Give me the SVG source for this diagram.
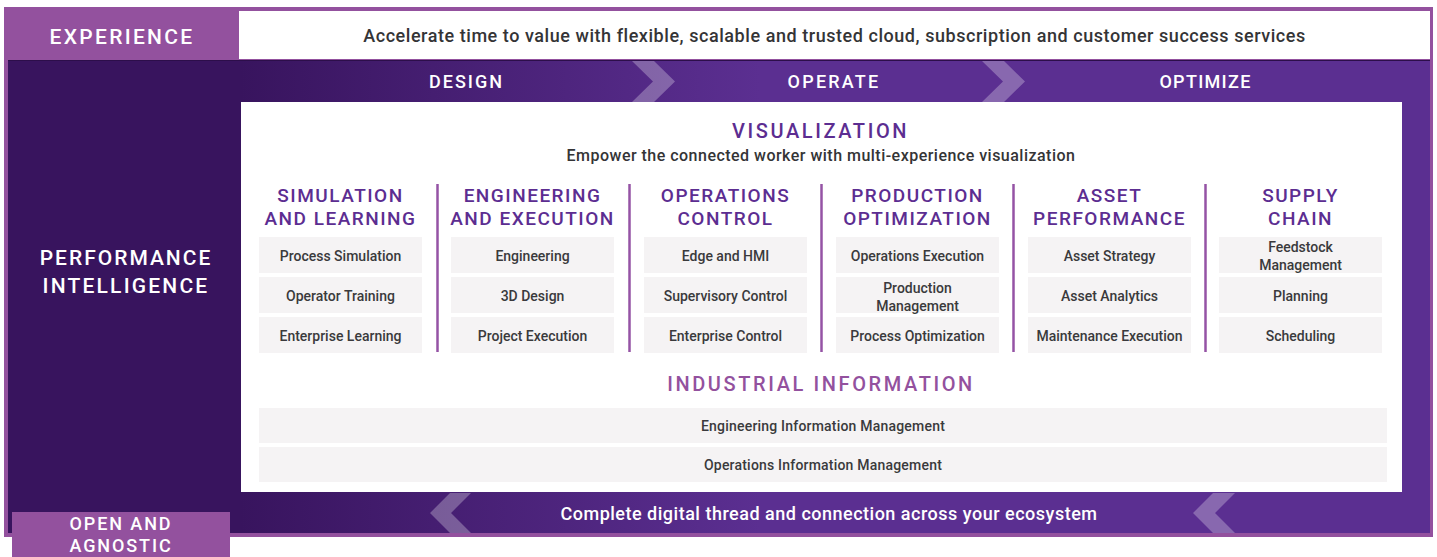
<svg xmlns="http://www.w3.org/2000/svg" width="1437" height="557" viewBox="0 0 1437 557">
<defs>
<linearGradient id="bandGrad" gradientUnits="userSpaceOnUse" x1="240" y1="0" x2="760" y2="0">
<stop offset="0" stop-color="#38145E"/>
<stop offset="1" stop-color="#5B2F91"/>
</linearGradient>
<style>
.t{font-family:Roboto,"Liberation Sans",sans-serif;font-weight:500;text-anchor:middle}
.wcap{fill:#FFFFFF}
.hdr{fill:#5C2D91;font-size:19px;letter-spacing:1.5px}
.item{fill:#3A3A3C;font-size:14px}
.bar{letter-spacing:0.2px}
.box{fill:#F5F3F4}
.sep{stroke:#9553A5;stroke-width:2.5}
.chev{fill:#FFFFFF;fill-opacity:0.28}
</style>
</defs>

<g id="frame">
<rect x="4" y="7" width="1429" height="530" fill="#93519E"/>
<rect x="8" y="60" width="1422" height="473" fill="url(#bandGrad)"/>
<rect x="8" y="60" width="232" height="473" fill="#38145E"/>
<line x1="8" y1="60.5" x2="1430" y2="60.5" stroke="#2C0E4A" stroke-width="1"/>
<rect x="241" y="102" width="1161" height="390" fill="#FFFFFF"/>
</g>

<g id="experience">
<text class="t wcap" x="122" y="44" font-size="21" letter-spacing="2.3">EXPERIENCE</text>
<rect x="239" y="11" width="1191" height="48" fill="#FFFFFF"/>
<text class="t" x="834.5" y="42" font-size="18" letter-spacing="0.55" fill="#343436">Accelerate time to value with flexible, scalable and trusted cloud, subscription and customer success services</text>
</g>

<g id="connectors">
<polygon class="chev" points="632,61 654,61 675,81.5 654,102 632,102 653,81.5"/>
<polygon class="chev" points="982,61 1004,61 1025,81.5 1004,102 982,102 1003,81.5"/>
<polygon class="chev" points="450,493 471,493 451,513 471,533 450,533 430,513"/>
<polygon class="chev" points="1213,493 1235,493 1215,513 1235,533 1213,533 1193,513"/>
</g>

<g id="phases">
<text class="t wcap" x="466.5" y="87.5" font-size="18" letter-spacing="2">DESIGN</text>
<text class="t wcap" x="834" y="87.5" font-size="18" letter-spacing="2.2">OPERATE</text>
<text class="t wcap" x="1205.5" y="87.5" font-size="18" letter-spacing="1.3">OPTIMIZE</text>
</g>

<g id="performance-intelligence">
<text class="t wcap" x="126" y="265" font-size="21" letter-spacing="2">PERFORMANCE</text>
<text class="t wcap" x="126" y="293" font-size="21" letter-spacing="2.2">INTELLIGENCE</text>
</g>

<g id="visualization">
<text class="t" x="820.5" y="138" font-size="20" letter-spacing="2.6" fill="#5C2D91">VISUALIZATION</text>
<text class="t" x="821" y="161" font-size="16" letter-spacing="0.48" fill="#343436">Empower the connected worker with multi-experience visualization</text>
</g>

<g id="separators">
<line class="sep" x1="437.5" y1="184" x2="437.5" y2="352"/>
<line class="sep" x1="629.5" y1="184" x2="629.5" y2="352"/>
<line class="sep" x1="821.5" y1="184" x2="821.5" y2="352"/>
<line class="sep" x1="1013.5" y1="184" x2="1013.5" y2="352"/>
<line class="sep" x1="1205.5" y1="184" x2="1205.5" y2="352"/>
</g>

<g id="simulation-and-learning">
<text class="t hdr" x="340.5" y="202">SIMULATION</text>
<text class="t hdr" x="340.5" y="224.5">AND LEARNING</text>
<rect class="box" x="259" y="237" width="163" height="36"/>
<rect class="box" x="259" y="277" width="163" height="36"/>
<rect class="box" x="259" y="317" width="163" height="36"/>
<text class="t item" x="340.5" y="260.5">Process Simulation</text>
<text class="t item" x="340.5" y="300.5">Operator Training</text>
<text class="t item" x="340.5" y="340.5">Enterprise Learning</text>
</g>

<g id="engineering-and-execution">
<text class="t hdr" x="532.5" y="202">ENGINEERING</text>
<text class="t hdr" x="532.5" y="224.5">AND EXECUTION</text>
<rect class="box" x="451" y="237" width="163" height="36"/>
<rect class="box" x="451" y="277" width="163" height="36"/>
<rect class="box" x="451" y="317" width="163" height="36"/>
<text class="t item" x="532.5" y="260.5">Engineering</text>
<text class="t item" x="532.5" y="300.5">3D Design</text>
<text class="t item" x="532.5" y="340.5">Project Execution</text>
</g>

<g id="operations-control">
<text class="t hdr" x="725.5" y="202">OPERATIONS</text>
<text class="t hdr" x="725.5" y="224.5">CONTROL</text>
<rect class="box" x="644" y="237" width="163" height="36"/>
<rect class="box" x="644" y="277" width="163" height="36"/>
<rect class="box" x="644" y="317" width="163" height="36"/>
<text class="t item" x="725.5" y="260.5">Edge and HMI</text>
<text class="t item" x="725.5" y="300.5">Supervisory Control</text>
<text class="t item" x="725.5" y="340.5">Enterprise Control</text>
</g>

<g id="production-optimization">
<text class="t hdr" x="917.5" y="202">PRODUCTION</text>
<text class="t hdr" x="917.5" y="224.5">OPTIMIZATION</text>
<rect class="box" x="836" y="237" width="163" height="36"/>
<rect class="box" x="836" y="277" width="163" height="36"/>
<rect class="box" x="836" y="317" width="163" height="36"/>
<text class="t item" x="917.5" y="260.5">Operations Execution</text>
<text class="t item" x="917.5" y="292.5">Production</text>
<text class="t item" x="917.5" y="310.5">Management</text>
<text class="t item" x="917.5" y="340.5">Process Optimization</text>
</g>

<g id="asset-performance">
<text class="t hdr" x="1109.5" y="202">ASSET</text>
<text class="t hdr" x="1109.5" y="224.5">PERFORMANCE</text>
<rect class="box" x="1028" y="237" width="163" height="36"/>
<rect class="box" x="1028" y="277" width="163" height="36"/>
<rect class="box" x="1028" y="317" width="163" height="36"/>
<text class="t item" x="1109.5" y="260.5">Asset Strategy</text>
<text class="t item" x="1109.5" y="300.5">Asset Analytics</text>
<text class="t item" x="1109.5" y="340.5">Maintenance Execution</text>
</g>

<g id="supply-chain">
<text class="t hdr" x="1300.5" y="202">SUPPLY</text>
<text class="t hdr" x="1300.5" y="224.5">CHAIN</text>
<rect class="box" x="1219" y="237" width="163" height="36"/>
<rect class="box" x="1219" y="277" width="163" height="36"/>
<rect class="box" x="1219" y="317" width="163" height="36"/>
<text class="t item" x="1300.5" y="252">Feedstock</text>
<text class="t item" x="1300.5" y="270">Management</text>
<text class="t item" x="1300.5" y="300.5">Planning</text>
<text class="t item" x="1300.5" y="340.5">Scheduling</text>
</g>

<g id="industrial-information">
<text class="t" x="821" y="391" font-size="20" letter-spacing="2.6" fill="#93519E">INDUSTRIAL INFORMATION</text>
<rect class="box" x="259" y="408" width="1128" height="35"/>
<rect class="box" x="259" y="447" width="1128" height="35"/>
<text class="t item bar" x="823" y="430.5">Engineering Information Management</text>
<text class="t item bar" x="823" y="469.5">Operations Information Management</text>
</g>

<g id="digital-thread">
<text class="t wcap" x="829" y="520" font-size="18" letter-spacing="0.5">Complete digital thread and connection across your ecosystem</text>
</g>

<g id="open-and-agnostic">
<rect x="12" y="512" width="218" height="45" fill="#93519E"/>
<text class="t wcap" x="121" y="530" font-size="18" letter-spacing="1.9">OPEN AND</text>
<text class="t wcap" x="121" y="552" font-size="18" letter-spacing="1.9">AGNOSTIC</text>
</g>
</svg>
